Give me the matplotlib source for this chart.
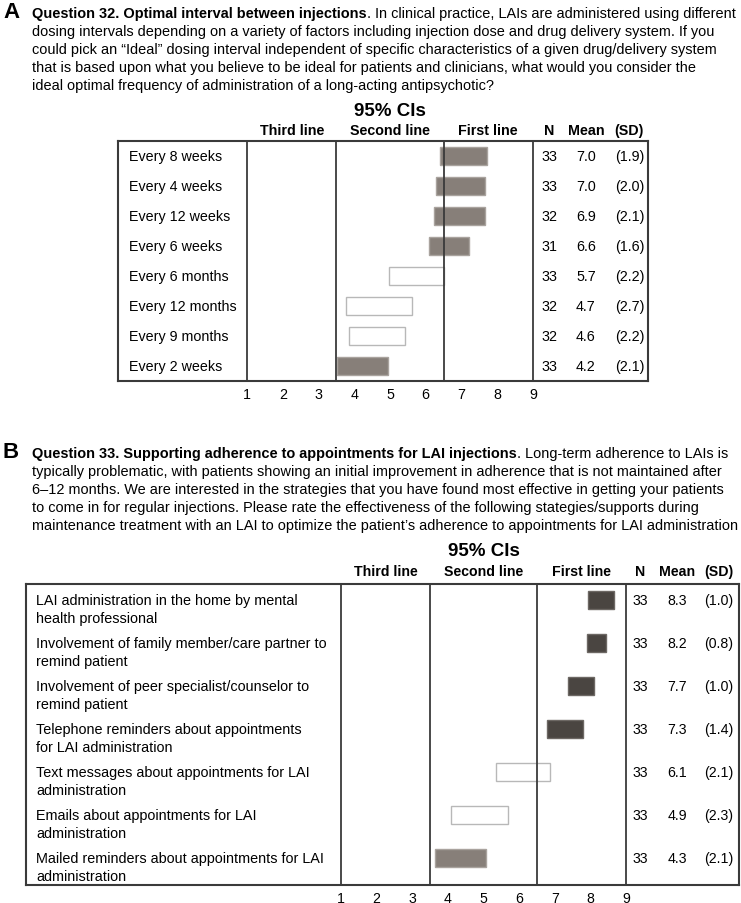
import matplotlib
matplotlib.use('Agg')
import matplotlib.pyplot as plt

W, H = 741, 904
FONT = 'Liberation Sans'
plt.rcParams['font.family'] = [FONT, 'DejaVu Sans']

# ---- panel A data ----
a_labels = ['Every 8 weeks', 'Every 4 weeks', 'Every 12 weeks', 'Every 6 weeks',
            'Every 6 months', 'Every 12 months', 'Every 9 months', 'Every 2 weeks']
a_lo = [6.41, 6.30, 6.22, 6.08, 4.97, 3.76, 3.85, 3.51]
a_hi = [7.70, 7.66, 7.67, 7.22, 6.50, 5.62, 5.41, 4.95]
a_n = [33, 33, 32, 31, 33, 32, 32, 33]
a_mean = ['7.0', '7.0', '6.9', '6.6', '5.7', '4.7', '4.6', '4.2']
a_sd = ['(1.9)', '(2.0)', '(2.1)', '(1.6)', '(2.2)', '(2.7)', '(2.2)', '(2.1)']
a_fill = ['gray', 'gray', 'gray', 'gray', 'white', 'white', 'white', 'gray']

# ---- panel B data ----
b_labels = [('LAI administration in the home by mental', 'health professional'),
            ('Involvement of family member/care partner to', 'remind patient'),
            ('Involvement of peer specialist/counselor to', 'remind patient'),
            ('Telephone reminders about appointments', 'for LAI administration'),
            ('Text messages about appointments for LAI', 'administration'),
            ('Emails about appointments for LAI', 'administration'),
            ('Mailed reminders about appointments for LAI', 'administration')]
b_lo = [7.94, 7.91, 7.36, 6.79, 5.36, 4.09, 3.63]
b_hi = [8.66, 8.45, 8.09, 7.79, 6.86, 5.69, 5.07]
b_n = [33, 33, 33, 33, 33, 33, 33]
b_mean = ['8.3', '8.2', '7.7', '7.3', '6.1', '4.9', '4.3']
b_sd = ['(1.0)', '(0.8)', '(1.0)', '(1.4)', '(2.1)', '(2.3)', '(2.1)']
b_fill = ['dark', 'dark', 'dark', 'dark', 'white', 'white', 'gray']

tiers = ['Third line', 'Second line', 'First line']
ticks = list(range(1, 10))

a_text = [('Question 32. Optimal interval between injections',
           '. In clinical practice, LAIs are administered using different'),
          ('', 'dosing intervals depending on a variety of factors including injection dose and drug delivery system. If you'),
          ('', 'could pick an \u201cIdeal\u201d dosing interval independent of specific characteristics of a given drug/delivery system'),
          ('', 'that is based upon what you believe to be ideal for patients and clinicians, what would you consider the'),
          ('', 'ideal optimal frequency of administration of a long-acting antipsychotic?')]
b_text = [('Question 33. Supporting adherence to appointments for LAI injections',
           '. Long-term adherence to LAIs is'),
          ('', 'typically problematic, with patients showing an initial improvement in adherence that is not maintained after'),
          ('', '6\u201312 months. We are interested in the strategies that you have found most effective in getting your patients'),
          ('', 'to come in for regular injections. Please rate the effectiveness of the following stategies/supports during'),
          ('', 'maintenance treatment with an LAI to optimize the patient\u2019s adherence to appointments for LAI administration')]

COLORS = {'gray': '#877f79', 'dark': '#4a4541', 'white': 'white'}
EDGES = {'gray': '#a9a39e', 'dark': '#6d6864', 'white': '#b8b8b8'}
LINE = '#3a3a3a'

fig = plt.figure(figsize=(W / 100, H / 100), dpi=100)
renderer = fig.canvas.get_renderer()


def fx(x):
    return x / W


def fy(y):
    return 1 - y / H


def paragraph(letter, lines, y0, step):
    fig.text(fx(3), fy(y0 - 1), letter, fontsize=16, fontweight='bold', va='center', ha='left')
    for i, (bold, rest) in enumerate(lines):
        y = fy(y0 + i * step)
        x = fx(32)
        if bold:
            t = fig.text(x, y, bold, fontsize=10.42, fontweight='bold', va='center', ha='left')
            bb = t.get_window_extent(renderer)
            x = bb.x1 / W
        fig.text(x, y, rest, fontsize=10.42, va='center', ha='left')


def panel(box, x1px, x9px, labels, lo, hi, n, mean, sd, fill, bar_h, bar_off,
          two_line, label_x, num_x, head_x, head_y, ci_y, fs, lfs):
    left, top, right, bottom = box
    ax = fig.add_axes([fx(left), fy(bottom), fx(right - left), (bottom - top) / H])
    unit = (x9px - x1px) / 8
    ax.set_xlim(1 + (left - x1px) / unit, 9 + (right - x9px) / unit)
    rows = len(labels)
    ax.set_ylim(rows - 0.5, -0.5)
    ypos = [i + bar_off for i in range(rows)]
    ax.barh(ypos, [h - l for l, h in zip(lo, hi)], left=lo, height=bar_h,
            color=[COLORS[f] for f in fill], edgecolor=[EDGES[f] for f in fill], linewidth=1)
    for v in (1, 3.5, 6.5, 9):
        ax.axvline(v, color=LINE, lw=1.3)
    for s in ax.spines.values():
        s.set_color(LINE)
        s.set_linewidth(1.5)
    ax.set_yticks([])
    ax.set_xticks(ticks)
    ax.tick_params(axis='x', length=0, pad=4, labelsize=fs)
    px = 1 / ((bottom - top) / rows)
    for i in range(rows):
        if two_line:
            ax.text(label_x, ypos[i], labels[i][0], fontsize=lfs, va='center', ha='left')
            ax.text(label_x, ypos[i] + 17.7 * px, labels[i][1], fontsize=lfs, va='center', ha='left')
        else:
            ax.text(label_x, ypos[i], labels[i], fontsize=lfs, va='center', ha='left')
        for xx, val in zip(num_x, (str(n[i]), mean[i], sd[i])):
            ax.text(xx, ypos[i], val, fontsize=fs, va='center', ha='center')
    # headers above the table
    for xx, t in zip((2.25, 5.0, 7.75), tiers):
        ax.text(xx, -0.5 - (top - head_y) * px, t, fontsize=fs, fontweight='bold',
                va='center', ha='center')
    for xx, t in zip(head_x, ('N', 'Mean', '(SD)')):
        ax.text(xx, -0.5 - (top - head_y) * px, t, fontsize=fs, fontweight='bold',
                va='center', ha='center')
    ax.text(5.0, -0.5 - (top - ci_y) * px, '95% CIs', fontsize=13.5, fontweight='bold',
            va='center', ha='center')
    return ax


paragraph('A', a_text, 14, 18)
paragraph('B', b_text, 454, 18)

# panel A: box 118..648 x 142..382, x=1 at 247, x=9 at 533
ua = (533 - 247) / 8
panel((118, 142, 648, 382), 247, 533, a_labels, a_lo, a_hi, a_n, a_mean, a_sd, a_fill,
      bar_h=18 / 30, bar_off=0, two_line=False,
      label_x=1 + (129 - 247) / ua,
      num_x=[9 + (549 - 533) / ua, 9 + (586 - 533) / ua, 9 + (630 - 533) / ua],
      head_x=[9 + (549 - 533) / ua, 9 + (586 - 533) / ua, 9 + (629 - 533) / ua],
      head_y=131, ci_y=111, fs=10.3, lfs=10.3)

# panel B: box 26..739 x 585..886, x=1 at 341, x=9 at 626
ub = (626 - 341) / 8
panel((26, 585, 739, 886), 341, 626, b_labels, b_lo, b_hi, b_n, b_mean, b_sd, b_fill,
      bar_h=18 / 43, bar_off=-5.5 / 43, two_line=True,
      label_x=1 + (36 - 341) / ub,
      num_x=[9 + (640 - 626) / ub, 9 + (677 - 626) / ub, 9 + (719 - 626) / ub],
      head_x=[9 + (640 - 626) / ub, 9 + (677 - 626) / ub, 9 + (719 - 626) / ub],
      head_y=572, ci_y=551, fs=10.2, lfs=10.4)

fig.savefig('out.png', dpi=100)
